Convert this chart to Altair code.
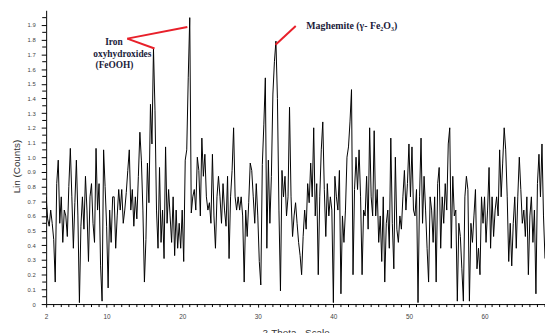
import altair as alt
import pandas as pd

# XRD scan: 2-theta from 2.0 deg in 0.2 deg steps
START = 2.0
STEP = 0.2

seg_02_15 = [0.73, 0.58, 0.53, 0.64, 0.55, 0.44, 0.15, 0.82, 0.98, 0.55,
             0.73, 0.42, 0.64, 0.60, 0.46, 0.80, 1.06, 0.73, 0.38, 0.69,
             0.98, 0.60, 0.01, 0.53, 0.73, 0.51, 0.87, 0.64, 0.29, 0.73,
             0.82, 0.55, 0.42, 1.06, 0.64, 0.82, 0.26, 0.02, 1.05, 0.80,
             0.53, 0.11, 0.64, 0.42, 0.73, 0.73, 0.38, 0.60, 0.78, 0.64,
             0.78, 0.55, 0.64, 0.76, 0.91, 1.05, 0.64, 0.78, 0.53, 0.73,
             0.58, 0.87, 1.17, 0.98, 0.64]
seg_15_28 = [0.15, 0.44, 0.96, 0.69, 1.36, 1.09, 1.74, 1.32, 0.64, 0.38,
             0.93, 0.42, 0.64, 0.31, 1.07, 0.55, 0.78, 0.60, 0.42, 0.73,
             0.33, 0.64, 0.38, 0.55, 0.38, 0.64, 0.29, 0.98, 1.05, 1.54,
             1.95, 0.62, 0.73, 0.78, 0.64, 1.00, 0.91, 0.60, 1.13, 0.87,
             1.02, 0.73, 0.64, 0.69, 0.55, 1.02, 0.60, 0.38, 0.73, 0.87,
             0.73, 0.55, 0.82, 0.64, 0.53, 0.87, 0.31, 0.73, 0.91, 1.20,
             0.73, 0.64, 0.73, 0.64]
seg_28_41 = [0.73, 0.60, 0.15, 0.64, 0.46, 0.69, 0.96, 0.91, 0.73, 0.55,
             0.82, 0.60, 0.29, 0.13, 0.95, 1.22, 1.54, 0.38, 0.98, 0.55,
             0.87, 1.43, 1.65, 1.79, 1.40, 0.64, 0.09, 0.91, 0.73, 0.87,
             0.60, 0.73, 1.34, 0.73, 0.46, 0.60, 0.69, 0.55, 0.42, 0.33,
             0.20, 0.46, 0.64, 0.51, 0.82, 0.69, 0.96, 0.73, 1.20, 0.60,
             0.82, 0.20, 0.73, 1.05, 1.24, 0.78, 0.46, 0.82, 0.60, 0.73,
             0.64, 0.01, 0.87, 0.73, 0.64, 0.91]
seg_41_54 = [0.07, 0.60, 0.42, 0.64, 1.00, 1.07, 1.24, 1.46, 0.20, 0.78,
             1.00, 0.78, 1.05, 0.73, 0.20, 0.64, 0.60, 0.87, 0.51, 1.20,
             0.73, 0.60, 1.18, 0.60, 0.78, 0.42, 0.60, 0.29, 0.73, 0.15,
             0.55, 0.64, 0.38, 1.13, 0.55, 0.24, 1.00, 0.51, 0.42, 0.60,
             0.51, 0.73, 0.91, 0.64, 0.82, 1.09, 0.73, 1.07, 0.64, 0.60,
             0.78, 0.01, 0.73, 1.13, 0.55, 0.87, 0.64, 0.38, 0.15, 0.73,
             0.64, 0.42, 0.73, 0.15, 0.82]
seg_54_68 = [0.93, 0.38, 0.73, 0.55, 0.82, 0.64, 1.09, 1.20, 0.38, 0.87,
             0.60, 0.64, 0.02, 0.55, 0.46, 0.24, 0.02, 0.73, 0.87, 0.78,
             0.02, 0.55, 0.42, 0.60, 0.78, 0.24, 0.38, 0.20, 0.73, 0.55,
             0.73, 0.42, 0.64, 0.93, 0.38, 0.73, 0.46, 0.64, 0.73, 0.60,
             1.05, 0.73, 0.96, 1.20, 1.05, 0.73, 0.29, 0.55, 0.26, 0.55,
             0.73, 0.38, 0.73, 1.00, 0.78, 0.55, 0.64, 0.46, 0.73, 0.20,
             0.60, 0.73, 0.42, 0.64, 0.07, 0.82, 1.02, 0.73, 1.09, 0.60,
             0.31]

intensity = seg_02_15 + seg_15_28 + seg_28_41 + seg_41_54 + seg_54_68
two_theta = [round(START + STEP * i, 1) for i in range(len(intensity))]

# axis ticks
x_labels = [2, 10, 20, 30, 40, 50, 60]
x_minor = [v for v in range(3, 69) if v not in x_labels]
y_labels = [round(0.1 * i, 1) for i in range(20)]
y_minor = [round(0.05 + 0.1 * i, 2) for i in range(20)]

# annotations
iron_text = ["Iron", "oxyhydroxides", "(FeOOH)"]
iron_x = [10.97, 12.08, 11.04]
iron_y = [1.781, 1.700, 1.624]

mag_text = ["Maghemite (γ- Fe₂O₃)"]
mag_x = [36.42]
mag_y = [1.893]

ptr_x = [12.73, 12.73, 35.02]
ptr_y = [1.807, 1.807, 1.893]
ptr_x2 = [20.68, 16.34, 32.35]
ptr_y2 = [1.886, 1.740, 1.765]

df = pd.DataFrame({"theta": two_theta, "counts": intensity})
df_iron = pd.DataFrame({"theta": iron_x, "counts": iron_y, "label": iron_text})
df_mag = pd.DataFrame({"theta": mag_x, "counts": mag_y, "label": mag_text})
df_ptr = pd.DataFrame({"theta": ptr_x, "counts": ptr_y, "theta2": ptr_x2, "counts2": ptr_y2})
df_xm = pd.DataFrame({"theta": x_minor})
df_ym = pd.DataFrame({"counts": y_minor})

W, H = 506, 298

xs = alt.Scale(domain=[2, 68], nice=False, zero=False)
ys = alt.Scale(domain=[0, 2], nice=False, zero=True)

x_axis = alt.Axis(
    values=x_labels, labelOverlap=False, labelFlush=False, labelBound=False,
    labelFontSize=6.5, labelColor="#444", labelPadding=7,
    tickSize=3, tickColor="black", domainColor="black", grid=False,
    title="2-Theta - Scale", titleFontSize=10, titleFontWeight="normal",
    titleColor="#333", titlePadding=7,
)
y_axis = alt.Axis(
    values=y_labels,
    labelExpr="datum.value == 0 ? '0' : format(datum.value, '.1f')",
    labelOverlap=False, labelFontSize=6, labelColor="#444", labelPadding=6,
    tickSize=5, tickColor="black", domainColor="black", grid=False,
    title="Lin (Counts)", titleFontSize=10, titleFontWeight="normal",
    titleColor="#333", titleX=-25, titleY=158, titleAngle=270,
)

X = alt.X("theta:Q", scale=xs, axis=x_axis)
Y = alt.Y("counts:Q", scale=ys, axis=y_axis)

line = alt.Chart(df).mark_line(color="black", strokeWidth=1.0, clip=True).encode(x=X, y=Y)

x_minor_ticks = alt.Chart(df_xm).mark_rule(color="black", strokeWidth=1).encode(
    x=X, y=alt.value(H), y2=alt.value(H + 3)
)
y_minor_ticks = alt.Chart(df_ym).mark_rule(color="black", strokeWidth=1).encode(
    y=Y, x=alt.value(0), x2=alt.value(-4)
)

ptr = alt.Chart(df_ptr).mark_rule(color="#e8202a", strokeWidth=2).encode(
    x=X, y=Y, x2="theta2:Q", y2="counts2:Q",
)

iron = alt.Chart(df_iron).mark_text(
    font="Liberation Serif", fontWeight="bold", fontSize=9.5, color="#1b1b3a",
    align="center", baseline="middle",
).encode(x=X, y=Y, text="label:N")

mag = alt.Chart(df_mag).mark_text(
    font="Liberation Serif", fontWeight="bold", fontSize=10, color="#1b1b3a",
    align="left", baseline="middle",
).encode(x=X, y=Y, text="label:N")

chart = alt.layer(line, x_minor_ticks, y_minor_ticks, ptr, iron, mag).properties(
    width=W, height=H,
    autosize=alt.AutoSizeParams(type="none"),
    padding={"left": 38.7, "top": 0, "right": 0, "bottom": 27},
    background="white",
).configure_view(stroke=None)

chart.save("out.html", embed_options={"renderer": "svg", "actions": False})
